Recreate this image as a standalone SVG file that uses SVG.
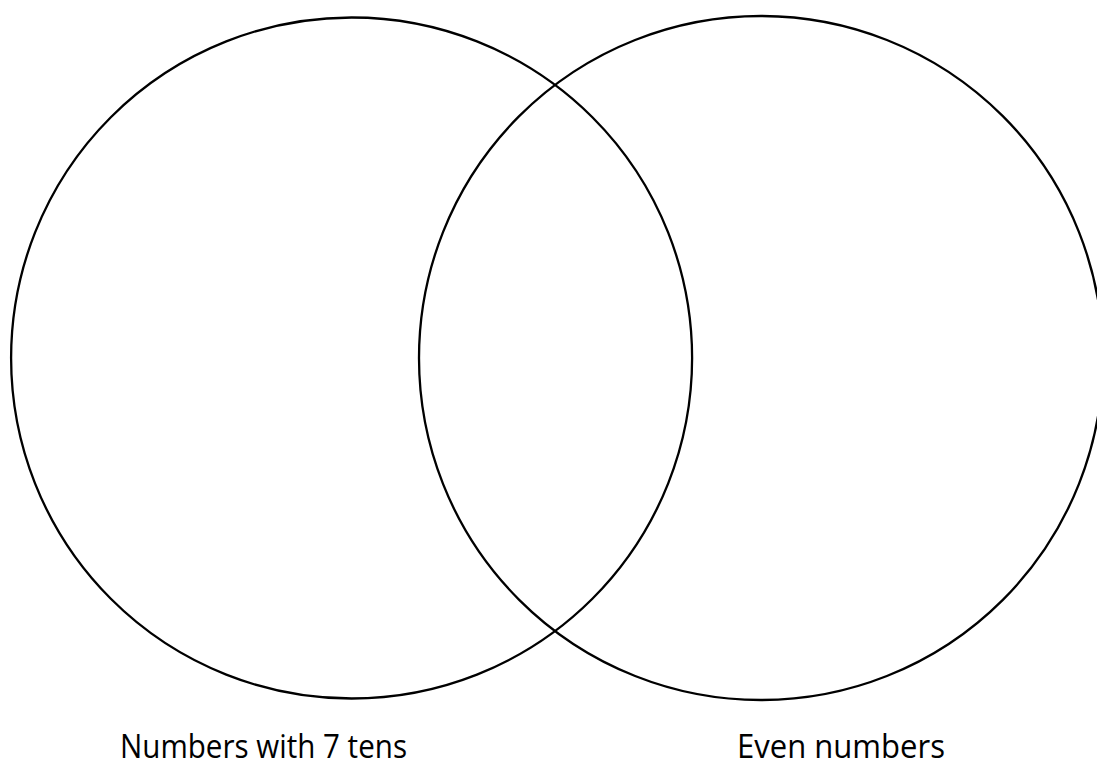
<svg xmlns="http://www.w3.org/2000/svg" width="1097" height="767" viewBox="0 0 1097 767">
<style>
.c{fill:none;stroke:#000;stroke-width:2.3}
.t{font-family:"Open Sans","Liberation Sans",sans-serif;font-size:33px;fill:#000}
</style>
<rect width="1097" height="767" fill="#fff"/>
<g id="left-set">
<circle class="c" cx="351.6" cy="358" r="340.5"/>
<text class="t" x="120" y="757.5" textLength="287" lengthAdjust="spacingAndGlyphs">Numbers with 7 tens</text>
</g>
<g id="right-set">
<circle class="c" cx="761" cy="358" r="342"/>
<text class="t" x="737" y="757.5" textLength="208" lengthAdjust="spacingAndGlyphs">Even numbers</text>
</g>
<g id="connectors"></g>
</svg>
